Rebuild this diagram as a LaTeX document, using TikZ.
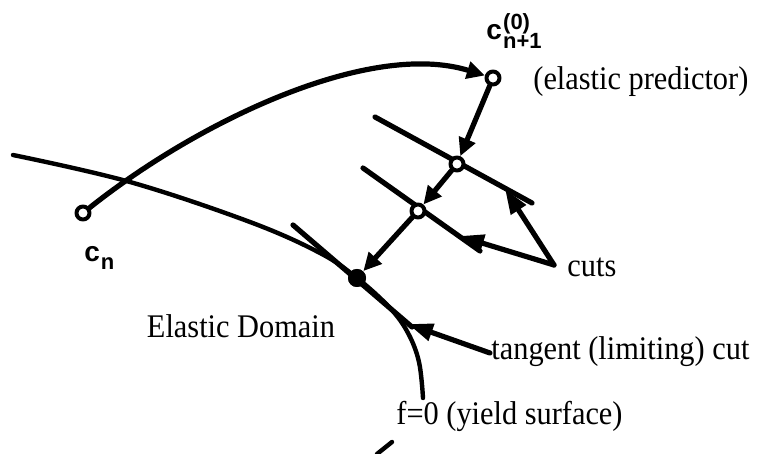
\documentclass[tikz,border=0pt]{standalone}
\usepackage{fontspec}
\setmainfont{Liberation Serif}
\newfontfamily\labfont{Liberation Sans}
\usetikzlibrary{arrows.meta}
\newcommand{\narrow}[1]{\scalebox{0.92}[1]{#1}}
\begin{document}
\begin{tikzpicture}[x=0.5pt,y=-0.5pt,
  line cap=round, line join=round,
  curve/.style={line width=2.2pt},
  seg/.style={line width=2.6pt},
  pathtip/.style={-{Triangle[length=9pt,width=8.5pt]}},
  cuttip/.style={-{Triangle[length=12.5pt,width=8.5pt]}},
  opendot/.style={circle,draw,line width=2pt,inner sep=0pt,minimum size=6.5pt,fill=white},
  fulldot/.style={circle,fill,inner sep=0pt,minimum size=9pt},
  txt/.style={font=\fontsize{16.5}{18}\selectfont,inner sep=0pt,anchor=base west},
]
\useasboundingbox (0,0) rectangle (766,454);

% yield surface
\draw[curve] plot[smooth,tension=0.6] coordinates {(13,155) (130,182) (250,222) (320,253) (357,278) (390,308) (408,333) (419,362) (423,398)};
\coordinate (fa) at (377,454);
\coordinate (fb) at (392,442);
\draw[curve] (fa) -- (fb);

% cut lines
\coordinate (c1a) at (375,117);
\coordinate (c1b) at (532,203);
\coordinate (c2a) at (363,168);
\coordinate (c2b) at (480,251);
\coordinate (t1a) at (293,225);
\coordinate (t1b) at (412,327);
\draw[seg] (c1a) -- (c1b);
\draw[seg] (c2a) -- (c2b);
\draw[seg] (t1a) -- (t1b);

% points
\node[opendot] (cn) at (83,213) {};
\node[opendot] (c0) at (493,78) {};
\node[opendot] (p1) at (457,164) {};
\node[opendot] (p2) at (418,211) {};
\node[fulldot] (p3) at (357,278) {};

% elastic predictor
\draw[seg,pathtip] (cn) .. controls (200,120) and (370,40) .. (c0);
% return mapping
\draw[seg,pathtip] (c0) -- (p1);
\draw[seg,pathtip] (p1) -- (p2);
\draw[seg,pathtip] (p2) -- (p3);
\node[fulldot] at (p3) {};

% labels
\node[txt] (lep) at (533,90) {\narrow{(elastic predictor)}};
\node[txt] (lcuts) at (567,277) {\narrow{cuts}};
\node[txt] (ltan) at (491,359) {\narrow{tangent (limiting) cut}};
\node[txt] (lf) at (396,424) {\narrow{f=0 (yield surface)}};
\node[txt,anchor=base] (led) at (241,337) {\narrow{Elastic Domain}};

\coordinate (cf) at (554,265);
\coordinate (cu1) at (505,189);
\coordinate (cu2) at (459,236);
\draw[seg,cuttip] (cf) -- (cu1);
\draw[seg,cuttip] (cf) -- (cu2);
\coordinate (tf) at (490,353);
\coordinate (tt) at (408,324);
\draw[seg,cuttip] (tf) -- (tt);

\node[inner sep=0pt,anchor=base west,font=\labfont\bfseries\fontsize{14}{16}\selectfont] (lc0) at (486,40)
  {c\kern0.6pt\rlap{\fontsize{11}{12}\selectfont\raisebox{5pt}{(0)}}\raisebox{-4.5pt}{\fontsize{11}{12}\selectfont n+1}};
\node[inner sep=0pt,anchor=base west,font=\labfont\bfseries\fontsize{14}{16}\selectfont] (lcn) at (84,262)
  {c\kern0.4pt\raisebox{-4pt}{\fontsize{11}{12}\selectfont n}};
\end{tikzpicture}
\end{document}
